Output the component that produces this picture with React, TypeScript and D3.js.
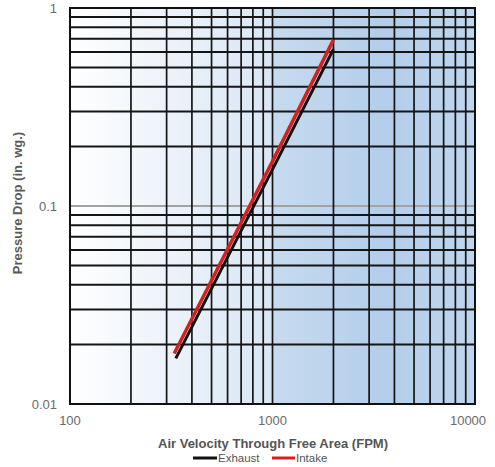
import { line, range, scaleLog } from "d3";

const xTicks = [100, 1000, 10000];
const yTicks = [1, 0.1, 0.01];
const xMinor = [200, 300, 400, 500, 600, 700, 800, 900, 1000, 2000, 3000, 4000, 5000, 6000, 7000, 8000, 9000];
const yMinor = [0.02, 0.03, 0.04, 0.05, 0.06, 0.07, 0.08, 0.09, 0.2, 0.3, 0.4, 0.5, 0.6, 0.7, 0.8, 0.9];

// velocity (FPM) and pressure drop (in. wg.)
const exhaustVelocity = [333, 1000, 2000];
const exhaustDrop = [0.017, 0.153, 0.62];
const intakeVelocity = [327, 1000, 2000];
const intakeDrop = [0.018, 0.168, 0.69];

const series = [
  { name: "Exhaust", color: "#111111", width: 3, v: exhaustVelocity, p: exhaustDrop },
  { name: "Intake", color: "#d42020", width: 3.5, v: intakeVelocity, p: intakeDrop },
];

export default function App() {
  const width = 495;
  const height = 467;
  const left = 70;
  const right = 475;
  const top = 8;
  const bottom = 404;

  const x = scaleLog().domain([100, 10000]).range([left, right]);
  const y = scaleLog().domain([0.01, 1]).range([bottom, top]);

  return (
    <svg
      width={width}
      height={height}
      style={{ position: "absolute", left: 0, top: 0, fontFamily: "'Liberation Sans', Arial, sans-serif" }}
    >
      <defs>
        <linearGradient id="bg" x1="0" x2="1" y1="0" y2="0">
          <stop offset="0%" stopColor="#ffffff" />
          <stop offset="49.8%" stopColor="#d9e6f4" />
          <stop offset="50%" stopColor="#c7dbef" />
          <stop offset="78%" stopColor="#b3cdea" />
          <stop offset="100%" stopColor="#c0d6ee" />
        </linearGradient>
      </defs>

      <rect x={left} y={top} width={right - left} height={bottom - top} fill="url(#bg)" />

      {yMinor.map((d) => (
        <line key={`y${d}`} x1={left} x2={right} y1={y(d)} y2={y(d)} stroke="#151515" strokeWidth={2} />
      ))}
      <line x1={left} x2={right} y1={y(0.1)} y2={y(0.1)} stroke="#a3a3a3" strokeWidth={2} />
      {xMinor.map((d) => (
        <line key={`x${d}`} x1={x(d)} x2={x(d)} y1={top} y2={bottom} stroke="#151515" strokeWidth={1.7} />
      ))}
      <rect x={left} y={top} width={right - left} height={bottom - top} fill="none" stroke="#111111" strokeWidth={2} />

      {series.map((s) => {
        const pts = range(s.v.length).map((i) => [x(s.v[i]), y(s.p[i])] as [number, number]);
        const d = line<[number, number]>()
          .x((p) => p[0])
          .y((p) => p[1])(pts);
        return (
          <path key={s.name} d={d ?? ""} fill="none" stroke={s.color} strokeWidth={s.width} strokeLinecap="butt" />
        );
      })}

      {yTicks.map((d) => (
        <text key={d} x={57} y={y(d)} dy="0.35em" textAnchor="end" fontSize={13} fill="#6a6a6a">
          {d}
        </text>
      ))}
      {xTicks.map((d, i) => (
        <text
          key={d}
          x={x(d) + (i === xTicks.length - 1 ? -7 : 0)}
          y={420}
          dy="0.35em"
          textAnchor="middle"
          fontSize={13}
          fill="#6a6a6a"
        >
          {d}
        </text>
      ))}

      <text x={273} y={443} dy="0.35em" textAnchor="middle" fontSize={13} fontWeight="bold" fill="#555555">
        Air Velocity Through Free Area (FPM)
      </text>
      <text
        transform="translate(17,203) rotate(-90)"
        dy="0.35em"
        textAnchor="middle"
        fontSize={13}
        fontWeight="bold"
        fill="#5a5a5a"
      >
        Pressure Drop (in. wg.)
      </text>

      <line x1={193} x2={217} y1={458} y2={458} stroke="#111111" strokeWidth={3} />
      <text x={218} y={458} dy="0.35em" fontSize={11.5} fill="#555555">Exhaust</text>
      <line x1={272} x2={295} y1={458} y2={458} stroke="#d42020" strokeWidth={3} />
      <text x={296} y={458} dy="0.35em" fontSize={11.5} fill="#555555">Intake</text>
    </svg>
  );
}
